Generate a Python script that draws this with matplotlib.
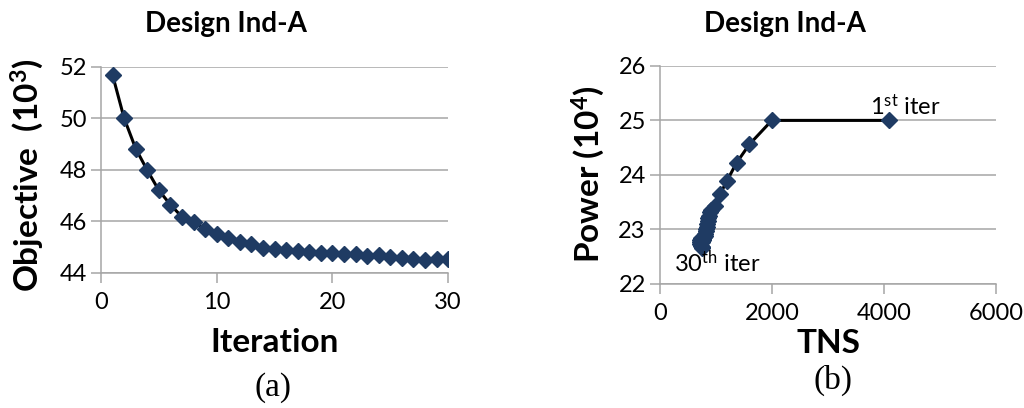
import matplotlib.pyplot as plt

# (a) objective value per iteration, in units of 10^3
iterations = list(range(1, 31))
objective = [51.68, 50.00, 48.82, 47.98, 47.20, 46.64, 46.17, 45.97, 45.71, 45.49,
             45.35, 45.19, 45.13, 44.96, 44.93, 44.87, 44.83, 44.80, 44.78, 44.76,
             44.71, 44.71, 44.64, 44.67, 44.61, 44.58, 44.52, 44.51, 44.52, 44.54]

# (b) TNS vs power (10^4) trajectory, iteration 1 to 30
tns = [4090, 2000, 1600, 1370, 1200, 1080, 990, 920, 890, 880,
       870, 860, 850, 840, 830, 820, 810, 800, 790, 780,
       770, 760, 730, 720, 715, 720, 740, 750, 755, 760]
power = [25.00, 25.00, 24.56, 24.22, 23.89, 23.65, 23.43, 23.36, 23.32, 23.25,
         23.20, 23.15, 23.10, 23.05, 23.00, 22.96, 22.92, 22.88, 22.85, 22.82,
         22.80, 22.77, 22.84, 22.80, 22.76, 22.73, 22.70, 22.68, 22.67, 22.66]

SANS = "Lato"
plt.rcParams["font.family"] = SANS
plt.rcParams["mathtext.fontset"] = "custom"
plt.rcParams["mathtext.rm"] = SANS
plt.rcParams["mathtext.it"] = SANS
plt.rcParams["mathtext.bf"] = SANS + ":bold"

MARKER = "#1F3B63"
GRID = "#A6A6A6"
TICK_FS = 17

fig = plt.figure(figsize=(10.24, 4.08), dpi=100)
ax1 = fig.add_axes([0.0986, 0.3316, 0.339, 0.505])
ax2 = fig.add_axes([0.6442, 0.3047, 0.3287, 0.5336])


def style(ax):
    ax.set_axisbelow(True)
    ax.grid(axis="y", color=GRID, lw=1.1)
    for s in ("top", "right"):
        ax.spines[s].set_visible(False)
    for s in ("left", "bottom"):
        ax.spines[s].set_color(GRID)
        ax.spines[s].set_linewidth(1.1)
    ax.tick_params(colors=GRID, labelcolor="black", labelsize=TICK_FS,
                   length=7, width=1.1, direction="out")
    ax.tick_params(axis="y", pad=3)
    ax.tick_params(axis="x", pad=7)


ax1.plot(iterations, objective, color="black", lw=2.2, marker="D", ms=8,
         mfc=MARKER, mec=MARKER, zorder=3)
ax1.set_xlim(0, 30)
ax1.set_ylim(44, 52)
ax1.set_xticks([0, 10, 20, 30])
ax1.set_yticks([44, 46, 48, 50, 52])
style(ax1)
ax1.set_xlabel("Iteration", fontsize=24, fontweight="bold")
ax1.xaxis.set_label_coords(0.499, -0.27)
ax1.set_ylabel(r"Objective  (10$^{\mathbf{3}}$)", fontsize=24, fontweight="bold",
               va="center")
ax1.yaxis.set_label_coords(-0.213, 0.474)

ax2.plot(tns, power, color="black", lw=2.2, marker="D", ms=8,
         mfc=MARKER, mec=MARKER, zorder=3)
ax2.set_xlim(0, 6000)
ax2.set_ylim(22, 26)
ax2.set_xticks([0, 2000, 4000, 6000])
ax2.set_yticks([22, 23, 24, 25, 26])
style(ax2)
ax2.set_xlabel("TNS", fontsize=24, fontweight="bold")
ax2.xaxis.set_label_coords(0.502, -0.21)
ax2.set_ylabel(r"Power (10$^{\mathbf{4}}$)", fontsize=24, fontweight="bold",
               va="center")
ax2.yaxis.set_label_coords(-0.213, 0.504)
ax2.text(3750, 25.1, r"1$^{\mathrm{st}}$ iter", fontsize=17)
ax2.text(256, 22.21, r"30$^{\mathrm{th}}$ iter", fontsize=17)

fig.text(0.221, 0.94, "Design Ind-A", fontsize=20, fontweight="bold",
         ha="center", va="center")
fig.text(0.767, 0.94, "Design Ind-A", fontsize=20, fontweight="bold",
         ha="center", va="center")

fig.text(0.267, 0.05, "(a)", fontsize=24, family="Liberation Serif",
         ha="center", va="center")
fig.text(0.813, 0.068, "(b)", fontsize=24, family="Liberation Serif",
         ha="center", va="center")

fig.savefig("out.png", dpi=100)
